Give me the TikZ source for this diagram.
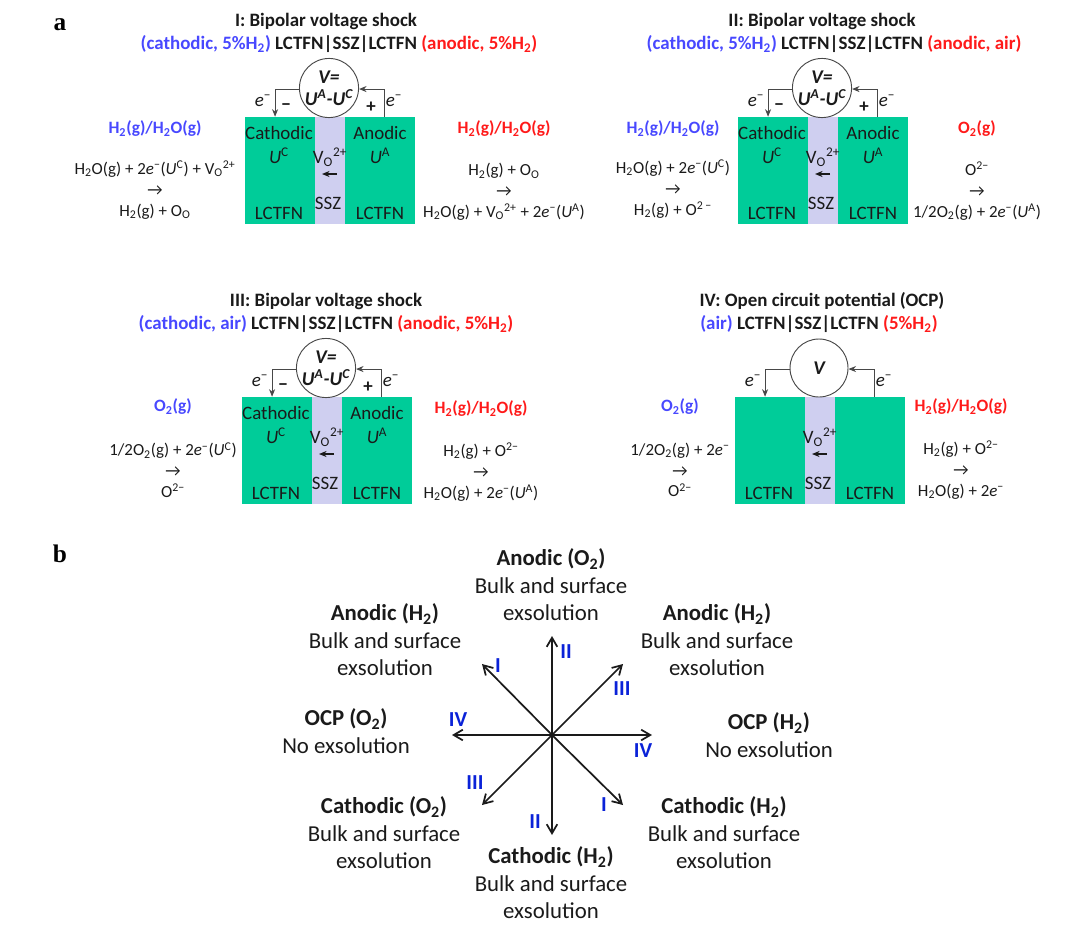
\documentclass[tikz,border=0pt]{standalone}
\usepackage{fontspec}
\setmainfont{Carlito}
\newfontfamily\serifbold{Liberation Serif}
\usetikzlibrary{arrows.meta, positioning, calc}
\definecolor{lcgreen}{HTML}{00CC99}
\definecolor{sszlav}{HTML}{CFCFF0}
\definecolor{cathblue}{HTML}{4848FF}
\definecolor{anodred}{HTML}{FF1A1A}
\definecolor{romblue}{HTML}{0A22D8}
\definecolor{txtdark}{HTML}{1A1A1A}
\newcommand{\elec}{\textit{e}\textsuperscript{−}}
\newcommand{\Vo}{V\textsubscript{O}\textsuperscript{2+}}
\newcommand{\Hg}{H\textsubscript{2}}
\newcommand{\Og}{O\textsubscript{2}}
\newcommand{\Ox}{O\textsuperscript{2−}}
\newcommand{\Uc}{\textit{U}\textsuperscript{C}}
\newcommand{\Ua}{\textit{U}\textsuperscript{A}}
\newcommand{\cellline}{\textcolor{txtdark}{LCTFN|SSZ|LCTFN}}
\begin{document}
\begin{tikzpicture}[
  x=0.75pt, y=-0.75pt,
  >={Stealth[length=2mm, width=1.6mm]},
  small/.style={font=\fontsize{14.2}{15}\selectfont, text=txtdark, inner sep=0pt},
  eqn/.style={font=\fontsize{12.7}{15.6}\selectfont, text=txtdark, align=center, inner sep=0pt},
  head/.style={font=\fontsize{14.2}{15}\selectfont\bfseries, text=txtdark, inner sep=0pt},
  gas/.style={font=\fontsize{13}{15}\selectfont\bfseries, inner sep=0pt},
  outcome/.style={font=\fontsize{17.1}{20.6}\selectfont, text=txtdark, align=center, inner sep=0pt},
  rom/.style={font=\fontsize{16}{16}\selectfont\bfseries, text=romblue, inner sep=0pt},
  plabel/.style={font=\fontsize{19}{20}\serifbold\bfseries, inner sep=0pt},
  wire/.style={draw=txtdark!80, line width=0.7pt},
  axis/.style={-{Straight Barb[length=2.4mm, width=2.8mm]}, draw=txtdark, line width=1.3pt},
  dial/.style={circle, draw=txtdark!80, line width=0.7pt, fill=white, minimum size=43.5pt,
    inner sep=0pt, align=center, font=\fontsize{14.6}{16.5}\selectfont\bfseries\itshape, text=txtdark},
  lcblock/.style={fill=lcgreen, minimum width=52.5pt, minimum height=80.25pt, inner sep=0pt},
  sszblock/.style={fill=sszlav, minimum width=22.5pt, minimum height=80.25pt, inner sep=0pt},
]
\useasboundingbox (0,0) rectangle (1080,935);

% Panel letters
\node[plabel] (pa) at (60,25) {a};
\node[plabel] (pb) at (60,554) {b};

% === Cells: blocks, voltmeter and wires ===
\foreach \id/\xo/\yo/\vtxt in {A/245/117/{V=\\U\textsuperscript{A}-U\textsuperscript{C}},
    B/738/117/{V=\\U\textsuperscript{A}-U\textsuperscript{C}},
    C/242/397/{V=\\U\textsuperscript{A}-U\textsuperscript{C}},
    D/735/397/{V}} {
  \begin{scope}[shift={(\xo,\yo)}]
    \node[sszblock] (ssz\id) at (85,53.5) {};
    \node[lcblock] (cath\id) at (35,53.5) {};
    \node[lcblock] (anod\id) at (135,53.5) {};
    \node[dial] (volt\id) at (84,-29) {\vtxt};
    \draw[wire, ->] (volt\id.182) -| ([xshift=-3.7pt]cath\id.north);
    \draw[wire, ->] ([xshift=3pt]anod\id.north) |- (volt\id.358);
    \node[small] (eleft\id) at (18,-16) {\elec};
    \node[small] (eright\id) at (149,-16) {\elec};
    \node[small] (vac\id) at (85,40) {\Vo};
    \coordinate (vfrom\id) at (92,57);
    \coordinate (vto\id) at (77,57);
    \draw[wire, ->, line width=0.9pt, txtdark] (vfrom\id) -- (vto\id);
    \node[small] (ssztxt\id) at (83,86) {SSZ};
    \node[small] (lleft\id) at (34,96) {LCTFN};
    \node[small] (lright\id) at (135,96) {LCTFN};
  \end{scope}
}

% === Electrode labels (not on panel IV) ===
\foreach \id/\xo/\yo in {A/245/117, B/738/117, C/242/397} {
  \begin{scope}[shift={(\xo,\yo)}]
    \node[small] (minus\id) at (41,-10) {\textbf{−}};
    \node[small] (plus\id) at (126,-10) {\textbf{+}};
    \node[small] (ctxt\id) at (34,16) {Cathodic};
    \node[small] (utxtc\id) at (34,39) {\Uc};
    \node[small] (atxt\id) at (135,16) {Anodic};
    \node[small] (utxta\id) at (135,39) {\Ua};
  \end{scope}
}

% === Panel I ===
\node[head] (titleA) at (326,21) {I: Bipolar voltage shock};
\node[head] (cellA) at (339,44) {\textcolor{cathblue}{(cathodic, 5\%\Hg)} \cellline{} \textcolor{anodred}{(anodic, 5\%\Hg)}};
\node[gas, text=cathblue] (gasLA) at (155,129) {\Hg(g)/\Hg O(g)};
\node[gas, text=anodred] (gasRA) at (504,129) {\Hg(g)/\Hg O(g)};
\node[eqn] (eqLA) at (155,190) {\Hg O(g) + 2\elec(\Uc) + \Vo\\→\\\Hg(g) + O\textsubscript{O}};
\node[eqn] (eqRA) at (504,192) {\Hg(g) + O\textsubscript{O}\\→\\\Hg O(g) + \Vo{} + 2\elec(\Ua)};

% === Panel II ===
\node[head] (titleB) at (822,21) {II: Bipolar voltage shock};
\node[head] (cellB) at (834,44) {\textcolor{cathblue}{(cathodic, 5\%\Hg)} \cellline{} \textcolor{anodred}{(anodic, air)}};
\node[gas, text=cathblue] (gasLB) at (673,129) {\Hg(g)/\Hg O(g)};
\node[gas, text=anodred] (gasRB) at (977,129) {\Og(g)};
\node[eqn] (eqLB) at (673,189) {\Hg O(g) + 2\elec(\Uc)\\→\\\Hg(g) + O\textsuperscript{2 −}};
\node[eqn] (eqRB) at (977,191) {\Ox\\→\\1/2\Og(g) + 2\elec(\Ua)};

% === Panel III ===
\node[head] (titleC) at (326,301) {III: Bipolar voltage shock};
\node[head] (cellC) at (326,324) {\textcolor{cathblue}{(cathodic, air)} \cellline{} \textcolor{anodred}{(anodic, 5\%\Hg)}};
\node[gas, text=cathblue] (gasLC) at (173,407) {\Og(g)};
\node[gas, text=anodred] (gasRC) at (481,409) {\Hg(g)/\Hg O(g)};
\node[eqn] (eqLC) at (173,470) {1/2\Og(g) + 2\elec(\Uc)\\→\\\Ox};
\node[eqn] (eqRC) at (481,472) {\Hg(g) + \Ox\\→\\\Hg O(g) + 2\elec(\Ua)};

% === Panel IV ===
\node[head] (titleD) at (822,301) {IV: Open circuit potential (OCP)};
\node[head] (cellD) at (819,324) {\textcolor{cathblue}{(air)} \cellline{} \textcolor{anodred}{(5\%\Hg)}};
\node[gas, text=cathblue] (gasLD) at (680,407) {\Og(g)};
\node[gas, text=anodred] (gasRD) at (961,407) {\Hg(g)/\Hg O(g)};
\node[eqn] (eqLD) at (680,470) {1/2\Og(g) + 2\elec\\→\\\Ox};
\node[eqn] (eqRD) at (961,470) {\Hg(g) + \Ox\\→\\\Hg O(g) + 2\elec};

% === Star of directions ===
\coordinate (hub) at (552,735);
\coordinate (tipN) at (552,636);
\coordinate (tipS) at (552,835);
\coordinate (tipW) at (452,735);
\coordinate (tipE) at (652,735);
\coordinate (tipNE) at (623,664);
\coordinate (tipNW) at (482,664);
\coordinate (tipSE) at (623,805);
\coordinate (tipSW) at (482,805);
\foreach \tip in {N,S,W,E,NE,NW,SE,SW}
  \draw[axis] (hub) -- (tip\tip);

\node[rom] (romN) at (566,652) {II};
\node[rom] (romNW) at (498,666) {I};
\node[rom] (romNE) at (622,689) {III};
\node[rom] (romW) at (458,720) {IV};
\node[rom] (romE) at (643,751) {IV};
\node[rom] (romSW) at (475,783) {III};
\node[rom] (romSE) at (604,805) {I};
\node[rom] (romS) at (535,822) {II};

% === Outcomes ===
\node[outcome] (outN) at (551,585) {\textbf{Anodic (\Og)}\\Bulk and surface\\exsolution};
\node[outcome] (outNW) at (385,640) {\textbf{Anodic (\Hg)}\\Bulk and surface\\exsolution};
\node[outcome] (outNE) at (717,640) {\textbf{Anodic (\Hg)}\\Bulk and surface\\exsolution};
\node[outcome] (outW) at (346,731) {\textbf{OCP (\Og)}\\No exsolution};
\node[outcome] (outE) at (769,735) {\textbf{OCP (\Hg)}\\No exsolution};
\node[outcome] (outSW) at (384,833) {\textbf{Cathodic (\Og)}\\Bulk and surface\\exsolution};
\node[outcome] (outSE) at (724,833) {\textbf{Cathodic (\Hg)}\\Bulk and surface\\exsolution};
\node[outcome] (outS) at (551,883) {\textbf{Cathodic (\Hg)}\\Bulk and surface\\exsolution};

\end{tikzpicture}
\end{document}
